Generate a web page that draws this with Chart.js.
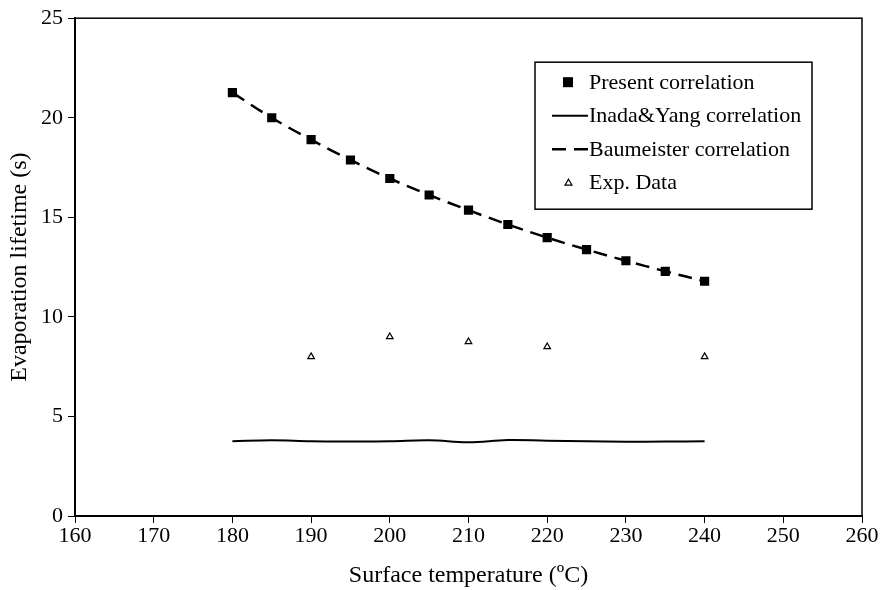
<!DOCTYPE html>
<html>
<head>
<meta charset="utf-8">
<script src="https://cdn.jsdelivr.net/npm/chart.js@4"></script>
<style>
  html, body { margin: 0; padding: 0; background: #fff; }
  #wrap { width: 884px; height: 590px; position: relative; }
</style>
</head>
<body>
<div id="wrap"><canvas id="chart"></canvas></div>
<script>
// data
const temps        = [180, 185, 190, 195, 200, 205, 210, 215, 220, 225, 230, 235, 240];
const presentVals  = [21.26, 20.0, 18.9, 17.88, 16.95, 16.12, 15.36, 14.64, 13.98, 13.38, 12.82, 12.29, 11.79];
const inadaVals    = [3.75, 3.8, 3.75, 3.74, 3.75, 3.8, 3.7, 3.82, 3.78, 3.75, 3.73, 3.74, 3.75];
const baumVals     = [21.26, 20.0, 18.9, 17.88, 16.95, 16.12, 15.36, 14.64, 13.98, 13.38, 12.82, 12.29, 11.79];
const expTemps     = [190, 200, 210, 220, 240];
const expVals      = [8.0, 9.0, 8.75, 8.5, 8.0];
const xTicks       = [160, 170, 180, 190, 200, 210, 220, 230, 240, 250, 260];
const yTicks       = [0, 5, 10, 15, 20, 25];

const FONT = '"Liberation Serif", "Times New Roman", serif';
const pts = (xs, ys) => xs.map((x, i) => ({ x, y: ys[i] }));

// frame around the plot + boxed legend, like the original figure
const framePlugin = {
  id: 'frame',
  afterDraw(chart) {
    const { ctx, chartArea: a } = chart;
    ctx.save();
    ctx.strokeStyle = '#000';
    ctx.lineWidth = 1.5;
    ctx.strokeRect(a.left, a.top, a.right - a.left, a.bottom - a.top);

    // legend box
    const bx = a.left + 460, by = a.top + 44, bw = 277, bh = 147;
    ctx.fillStyle = '#fff';
    ctx.fillRect(bx, by, bw, bh);
    ctx.strokeRect(bx, by, bw, bh);

    ctx.font = '22px ' + FONT;
    ctx.textBaseline = 'middle';
    chart.data.datasets.forEach((ds, i) => {
      const y = by + 20 + i * 33.5;
      ctx.strokeStyle = '#000';
      ctx.fillStyle = '#000';
      if (ds.showLine === false) {
        if (ds.pointStyle === 'rect') {
          ctx.fillRect(bx + 28, y - 5, 10, 10);
        } else {
          ctx.lineWidth = 1.2;
          ctx.beginPath();
          ctx.moveTo(bx + 33.5, y - 3.5);
          ctx.lineTo(bx + 37, y + 2.5);
          ctx.lineTo(bx + 30, y + 2.5);
          ctx.closePath();
          ctx.stroke();
        }
      } else {
        ctx.lineWidth = ds.borderWidth;
        ctx.setLineDash(ds.borderDash || []);
        ctx.beginPath();
        ctx.moveTo(bx + 17, y);
        ctx.lineTo(bx + 53, y);
        ctx.stroke();
        ctx.setLineDash([]);
      }
      ctx.textAlign = 'left';
      ctx.fillText(ds.label, bx + 54, y + 1);
    });
    ctx.restore();
  }
};

new Chart(document.getElementById('chart'), {
  type: 'scatter',
  data: {
    datasets: [
      {
        label: 'Present correlation',
        data: pts(temps, presentVals),
        showLine: false,
        pointStyle: 'rect',
        pointRadius: 6.5,
        backgroundColor: '#000',
        borderColor: '#000',
        borderWidth: 0,
        order: 0
      },
      {
        label: 'Inada&Yang correlation',
        data: pts(temps, inadaVals),
        showLine: true,
        borderColor: '#000',
        borderWidth: 2,
        tension: 0.4,
        pointRadius: 0,
        order: 2
      },
      {
        label: 'Baumeister correlation',
        data: pts(temps, baumVals),
        showLine: true,
        borderColor: '#000',
        borderWidth: 2.5,
        borderDash: [14, 8],
        tension: 0.4,
        pointRadius: 0,
        order: 1
      },
      {
        label: 'Exp. Data',
        data: pts(expTemps, expVals),
        showLine: false,
        pointStyle: 'triangle',
        pointRadius: 3.8,
        backgroundColor: '#fff',
        borderColor: '#000',
        borderWidth: 1.2,
        order: 0
      }
    ]
  },
  options: {
    responsive: true,
    maintainAspectRatio: false,
    animation: false,
    layout: { padding: { top: 17, right: 22, left: 0, bottom: 0 } },
    plugins: {
      legend: { display: false },
      tooltip: { enabled: false }
    },
    scales: {
      x: {
        type: 'linear', min: 160, max: 260,
        afterBuildTicks: s => { s.ticks = xTicks.map(v => ({ value: v })); },
        afterFit: s => { s.height = 74; },
        grid: { display: true, drawOnChartArea: false, drawTicks: true, tickLength: 7, tickWidth: 1, tickColor: '#000' },
        border: { display: true, color: '#000', width: 2 },
        ticks: { color: '#000', font: { family: FONT, size: 22 }, padding: 0, maxRotation: 0 },
        title: { display: true, text: 'Surface temperature (ºC)', color: '#000', font: { family: FONT, size: 24 }, padding: { top: 0, bottom: 0 } }
      },
      y: {
        type: 'linear', min: 0, max: 25,
        afterBuildTicks: s => { s.ticks = yTicks.map(v => ({ value: v })); },
        afterFit: s => { s.width = 75; },
        grid: { display: true, drawOnChartArea: false, drawTicks: true, tickLength: 7, tickWidth: 1, tickColor: '#000' },
        border: { display: true, color: '#000', width: 2 },
        ticks: { color: '#000', font: { family: FONT, size: 22 }, padding: 5 },
        title: { display: true, text: 'Evaporation lifetime (s)', color: '#000', font: { family: FONT, size: 24 }, padding: { top: 5, bottom: 0 } }
      }
    }
  },
  plugins: [framePlugin]
});
</script>
</body>
</html>
